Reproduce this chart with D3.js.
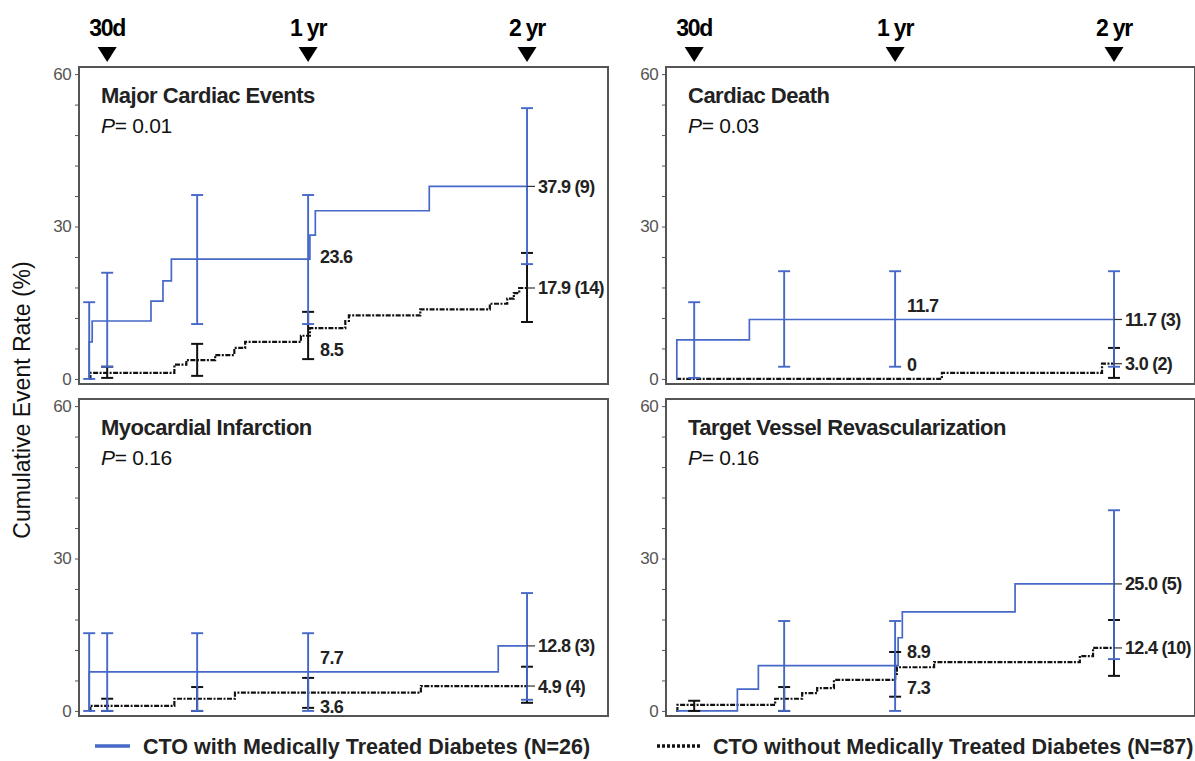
<!DOCTYPE html>
<html>
<head>
<meta charset="utf-8">
<script src="https://cdn.jsdelivr.net/npm/d3@7"></script>
<style>
  body { margin: 0; background: #fff; }
  svg { display: block; font-family: "Liberation Sans", Arial, sans-serif; }
</style>
</head>
<body>
<svg id="chart"></svg>
<script>
// ---- data (days since procedure, cumulative event rate %) ----
var milestoneDays = [30, 365, 730],
	milestoneLabels = ["30d", "1 yr", "2 yr"];

var panelTitles = ["Major Cardiac Events", "Cardiac Death", "Myocardial Infarction", "Target Vessel Revascularization"],
	pValues = ["0.01", "0.03", "0.16", "0.16"];

var yTickLabels = [0, 30, 60];

var legendLabels = ["CTO with Medically Treated Diabetes (N=26)", "CTO without Medically Treated Diabetes (N=87)"];

// step curves: [day, rate]
var maceDiabetes = [[0, 0], [0, 7.3], [5, 11.4], [103, 15.3], [123, 19.3], [137, 23.6], [368, 28.3], [377, 33.1], [567, 37.9], [730, 37.9]];
var maceNoDiabetes = [[0, 0], [2, 1.2], [142, 2.8], [162, 3.7], [210, 4.7], [242, 6.1], [260, 7.3], [353, 8.5], [368, 10.0], [427, 11.4], [433, 12.5], [552, 13.7], [668, 14.8], [697, 15.8], [708, 16.9], [717, 17.9], [730, 17.9]];
var cdDiabetes = [[0, 0], [1, 7.7], [122, 11.7], [730, 11.7]];
var cdNoDiabetes = [[0, 0], [443, 1.2], [710, 3.0], [730, 3.0]];
var miDiabetes = [[0, 0], [0, 7.7], [682, 12.8], [730, 12.8]];
var miNoDiabetes = [[0, 0], [2, 1.0], [142, 2.4], [243, 3.6], [553, 4.9], [730, 4.9]];
var tvrDiabetes = [[0, 0], [102, 4.3], [137, 8.9], [370, 14.4], [377, 19.5], [565, 25.0], [730, 25.0]];
var tvrNoDiabetes = [[0, 0], [2, 1.2], [165, 2.4], [210, 3.5], [235, 4.5], [263, 6.1], [365, 7.3], [368, 8.6], [430, 9.6], [673, 10.8], [695, 12.4], [730, 12.4]];

// confidence intervals: [day, low, high]
var maceDiabetesCI = [[0, 0, 15.1], [30, 2.4, 20.9], [180, 10.8, 36.2], [365, 10.8, 36.2], [730, 22.6, 53.3]];
var maceNoDiabetesCI = [[30, 0.2, 2.4], [180, 0.6, 6.9], [365, 3.9, 13.2], [730, 11.2, 24.8]];
var cdDiabetesCI = [[30, 0.2, 15.1], [180, 2.4, 21.2], [365, 2.4, 21.2], [730, 2.4, 21.2]];
var cdNoDiabetesCI = [[730, 0.2, 6.1]];
var miDiabetesCI = [[0, 0, 15.3], [30, 0, 15.3], [180, 0, 15.3], [365, 0, 15.3], [730, 2.2, 23.2]];
var miNoDiabetesCI = [[30, 0, 2.4], [180, 0, 4.7], [365, 0.6, 6.5], [730, 1.6, 8.7]];
var tvrDiabetesCI = [[180, 0, 17.7], [365, 0, 17.7], [730, 10.2, 39.5]];
var tvrNoDiabetesCI = [[30, 0, 2.0], [180, 0, 4.7], [365, 2.8, 11.6], [730, 6.9, 17.9]];

// value labels: [day, rate, text, placement]
var maceLabels = [[365, 23.6, "23.6", "mid"], [365, 8.5, "8.5", "below"], [730, 37.9, "37.9 (9)", "end"], [730, 17.9, "17.9 (14)", "end"]];
var cdLabels = [[365, 11.7, "11.7", "above"], [365, 0, "0", "above"], [730, 11.7, "11.7 (3)", "end"], [730, 3.0, "3.0 (2)", "end"]];
var miLabels = [[365, 7.7, "7.7", "above"], [365, 3.6, "3.6", "below"], [730, 12.8, "12.8 (3)", "end"], [730, 4.9, "4.9 (4)", "end"]];
var tvrLabels = [[365, 8.9, "8.9", "above"], [365, 7.3, "7.3", "below"], [730, 25.0, "25.0 (5)", "end"], [730, 12.4, "12.4 (10)", "end"]];

// ---- layout ----
var WIDTH = 1195, HEIGHT = 761,
	PANEL_W = 529, PANEL_H = 317,
	PANEL_X = [79, 666],
	PANEL_Y = [67, 399],
	BLUE = "#4668c8",
	CAP = 6; // half width of error bar caps

var panels = [
	{title: 0, col: 0, row: 0, blue: maceDiabetes, black: maceNoDiabetes, blueCI: maceDiabetesCI, blackCI: maceNoDiabetesCI, labels: maceLabels},
	{title: 1, col: 1, row: 0, blue: cdDiabetes, black: cdNoDiabetes, blueCI: cdDiabetesCI, blackCI: cdNoDiabetesCI, labels: cdLabels},
	{title: 2, col: 0, row: 1, blue: miDiabetes, black: miNoDiabetes, blueCI: miDiabetesCI, blackCI: miNoDiabetesCI, labels: miLabels},
	{title: 3, col: 1, row: 1, blue: tvrDiabetes, black: tvrNoDiabetes, blueCI: tvrDiabetesCI, blackCI: tvrNoDiabetesCI, labels: tvrLabels}
];

var svg = d3.select("#chart")
	.attr("width", WIDTH)
	.attr("height", HEIGHT);

panels.forEach(function(p) {
	var x0 = PANEL_X[p.col], y0 = PANEL_Y[p.row];

	var x = d3.scaleLinear().domain([-17, 865]).range([x0, x0 + PANEL_W]);
	var y = d3.scaleLinear().domain([-1, 61.4]).range([y0 + PANEL_H, y0]);

	var g = svg.append("g");

	// y axis with minor ticks every 6
	var axis = d3.axisLeft(y)
		.tickValues(d3.range(0, 61, 6))
		.tickSize(4)
		.tickPadding(4)
		.tickFormat(function(d) { return yTickLabels.indexOf(d) >= 0 ? d : ""; });
	var ax = g.append("g")
		.attr("transform", "translate(" + x0 + ",0)")
		.call(axis);
	ax.select(".domain").remove();
	ax.selectAll("line").attr("stroke", "#555");
	ax.selectAll("text")
		.attr("fill", "#555")
		.style("font-size", "17px")
		.style("letter-spacing", "-0.6px");

	// milestone markers above the top row
	if (p.row === 0) {
		milestoneDays.forEach(function(d, i) {
			var cx = x(d);
			g.append("path")
				.attr("d", "M" + (cx - 9.5) + ",47 L" + (cx + 9.5) + ",47 L" + cx + ",62 Z")
				.attr("fill", "#000");
			g.append("text")
				.attr("x", cx)
				.attr("y", 36)
				.attr("text-anchor", "middle")
				.style("font-size", "23px")
				.style("font-weight", "bold")
				.style("letter-spacing", "-1.2px")
				.text(milestoneLabels[i]);
		});
	}

	// black (no diabetes) curve
	var line = d3.line()
		.x(function(d) { return x(d[0]); })
		.y(function(d) { return y(d[1]); })
		.curve(d3.curveStepAfter);

	g.append("path")
		.datum(p.black)
		.attr("d", line)
		.attr("fill", "none")
		.attr("stroke", "#111")
		.attr("stroke-width", 2.2)
		.attr("stroke-dasharray", "5,1.5,2,1.5");

	g.append("path")
		.datum(p.blue)
		.attr("d", line)
		.attr("fill", "none")
		.attr("stroke", BLUE)
		.attr("stroke-width", 1.7);

	// error bars
	function bars(data, color, width) {
		var b = g.selectAll("dummy")
			.data(data)
		  .enter().append("g")
			.attr("stroke", color)
			.attr("stroke-width", width);
		b.append("line")
			.attr("x1", function(d) { return x(d[0]); })
			.attr("x2", function(d) { return x(d[0]); })
			.attr("y1", function(d) { return y(d[1]); })
			.attr("y2", function(d) { return y(d[2]); });
		b.append("line")
			.attr("x1", function(d) { return x(d[0]) - CAP; })
			.attr("x2", function(d) { return x(d[0]) + CAP; })
			.attr("y1", function(d) { return y(d[1]); })
			.attr("y2", function(d) { return y(d[1]); });
		b.append("line")
			.attr("x1", function(d) { return x(d[0]) - CAP; })
			.attr("x2", function(d) { return x(d[0]) + CAP; })
			.attr("y1", function(d) { return y(d[2]); })
			.attr("y2", function(d) { return y(d[2]); });
	}
	bars(p.blackCI, "#111", 2);
	bars(p.blueCI, BLUE, 1.9);

	// value labels
	p.labels.forEach(function(l) {
		var lx = x(l[0]), ly = y(l[1]), dy = 0, off = 12;
		if (l[3] === "above") dy = -14;
		if (l[3] === "below") dy = 14;
		if (l[3] === "end") {
			g.append("line")
				.attr("x1", lx).attr("x2", lx + 8)
				.attr("y1", ly).attr("y2", ly)
				.attr("stroke", "#333")
				.attr("stroke-width", 1.2);
			off = 11;
		}
		if (l[3] === "mid") dy = -3;
		g.append("text")
			.attr("x", lx + off)
			.attr("y", ly + dy)
			.attr("dy", "0.36em")
			.style("font-size", "18px")
			.style("font-weight", "bold")
			.style("letter-spacing", "-0.7px")
			.attr("fill", "#222")
			.text(l[2]);
	});

	// frame
	g.append("rect")
		.attr("x", x0)
		.attr("y", y0)
		.attr("width", PANEL_W)
		.attr("height", PANEL_H)
		.attr("fill", "none")
		.attr("stroke", "#555")
		.attr("stroke-width", 2);

	// title and p value
	g.append("text")
		.attr("x", x0 + 22)
		.attr("y", y0 + 36)
		.style("font-size", "22px")
		.style("font-weight", "bold")
		.style("letter-spacing", "-0.5px")
		.attr("fill", "#222")
		.text(panelTitles[p.title]);

	var pt = g.append("text")
		.attr("x", x0 + 22)
		.attr("y", y0 + 66)
		.style("font-size", "21px")
		.style("letter-spacing", "-0.3px")
		.attr("fill", "#111");
	pt.append("tspan").style("font-style", "italic").text("P");
	pt.append("tspan").text("= " + pValues[p.title]);
});

// y axis title
svg.append("text")
	.attr("transform", "translate(30,400) rotate(-90)")
	.attr("text-anchor", "middle")
	.style("font-size", "23px")
	.attr("fill", "#111")
	.text("Cumulative Event Rate (%)");

// legend
var legend = svg.append("g");
legend.append("line")
	.attr("x1", 95).attr("x2", 130)
	.attr("y1", 746).attr("y2", 746)
	.attr("stroke", BLUE)
	.attr("stroke-width", 3.5);
legend.append("text")
	.attr("x", 143).attr("y", 754)
	.style("font-size", "21.5px")
	.style("font-weight", "bold")
	.attr("fill", "#222")
	.text(legendLabels[0]);
legend.append("line")
	.attr("x1", 657).attr("x2", 700)
	.attr("y1", 746).attr("y2", 746)
	.attr("stroke", "#111")
	.attr("stroke-width", 3.5)
	.attr("stroke-dasharray", "3,2");
legend.append("text")
	.attr("x", 713).attr("y", 754)
	.style("font-size", "21.5px")
	.style("font-weight", "bold")
	.attr("fill", "#222")
	.text(legendLabels[1]);
</script>
</body>
</html>
